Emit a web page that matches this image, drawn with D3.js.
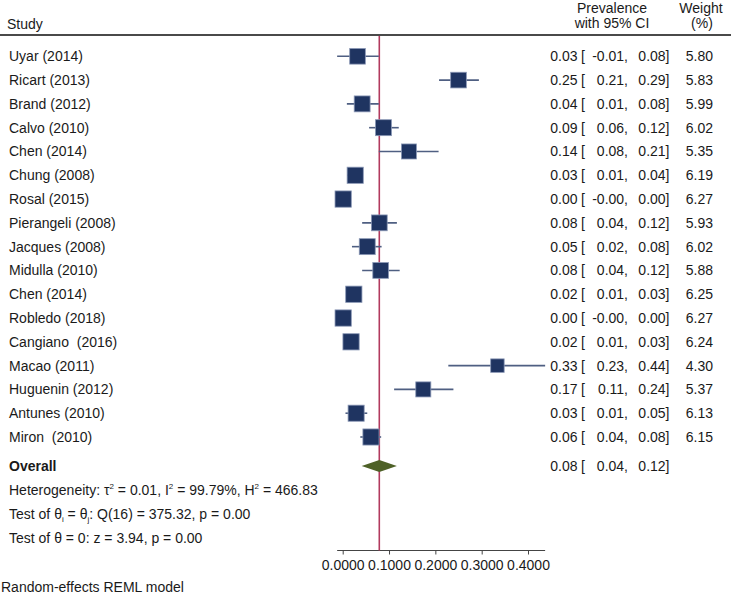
<!DOCTYPE html>
<html><head><meta charset="utf-8">
<script src="https://cdn.jsdelivr.net/npm/d3@7/dist/d3.min.js"></script>
<style>body{margin:0;background:#fff;} text{font-family:"Liberation Sans",Arial,sans-serif;}</style>
</head><body>
<script>
const studies = ["Uyar (2014)","Ricart (2013)","Brand (2012)","Calvo (2010)","Chen (2014)","Chung (2008)","Rosal (2015)","Pierangeli (2008)","Jacques (2008)","Midulla (2010)","Chen (2014)","Robledo (2018)","Cangiano  (2016)","Macao (2011)","Huguenin (2012)","Antunes (2010)","Miron  (2010)"];
const prevalence = [0.032,0.250,0.042,0.088,0.143,0.027,0.001,0.079,0.053,0.082,0.024,0.001,0.018,0.334,0.174,0.029,0.061];
const ciLow      = [-0.012,0.208,0.009,0.057,0.078,0.010,-0.001,0.042,0.020,0.042,0.014,-0.001,0.008,0.228,0.111,0.006,0.038];
const ciHigh     = [0.078,0.294,0.078,0.121,0.207,0.043,0.003,0.117,0.084,0.123,0.034,0.003,0.027,0.437,0.239,0.053,0.083];
const weights    = [5.80,5.83,5.99,6.02,5.35,6.19,6.27,5.93,6.02,5.88,6.25,6.27,6.24,4.30,5.37,6.13,6.15];
const overall = [0.079, 0.041, 0.117];
const tickValues = [0, 0.1, 0.2, 0.3, 0.4];

const W = 731, H = 594;
const svg = d3.select("body").append("svg").attr("width", W).attr("height", H);
const fs = 14;
const txt = "#1a1a1a";

const x = d3.scaleLinear().domain([0, 0.4]).range([342.7, 528]);
const y = d3.scaleLinear().domain([0, 16]).range([56.3, 437]);
const yOverall = 466;

const fmt = v => (v < 0 ? "-" : "") + Math.abs(v).toFixed(2);

// header
svg.append("text").attr("x", 7).attr("y", 24).attr("dy", "0.35em").attr("font-size", fs).attr("fill", txt).text("Study");
svg.append("text").attr("x", 612).attr("y", 8).attr("dy", "0.35em").attr("text-anchor", "middle").attr("font-size", fs).attr("fill", txt).text("Prevalence");
svg.append("text").attr("x", 612).attr("y", 23.5).attr("dy", "0.35em").attr("text-anchor", "middle").attr("font-size", fs).attr("fill", txt).text("with 95% CI");
svg.append("text").attr("x", 701).attr("y", 8).attr("dy", "0.35em").attr("text-anchor", "middle").attr("font-size", fs).attr("fill", txt).text("Weight");
svg.append("text").attr("x", 702).attr("y", 23.5).attr("dy", "0.35em").attr("text-anchor", "middle").attr("font-size", fs).attr("fill", txt).text("(%)");
svg.append("line").attr("x1", 0).attr("x2", W).attr("y1", 35).attr("y2", 35).attr("stroke", "#4a4a4a").attr("stroke-width", 1.8);

// axis
const axisY = 550.5;
const ext = [d3.min(ciLow), d3.max(ciHigh)];
svg.append("line").attr("x1", x(ext[0])).attr("x2", x(ext[1])).attr("y1", axisY).attr("y2", axisY).attr("stroke", "#444").attr("stroke-width", 1);
const ax = d3.axisBottom(x).tickValues(tickValues).tickFormat(d3.format(".4f")).tickSize(4).tickPadding(6);
const gAx = svg.append("g").attr("transform", `translate(0,${axisY})`).call(ax);
gAx.select(".domain").remove();
gAx.selectAll(".tick line").attr("stroke", "#444");
gAx.selectAll(".tick text").attr("font-size", fs).attr("fill", txt).attr("font-family", "Liberation Sans, Arial, sans-serif");

// reference line at overall
svg.append("line").attr("x1", x(overall[0])).attr("x2", x(overall[0])).attr("y1", 36).attr("y2", axisY)
  .attr("stroke", "#b23a5e").attr("stroke-width", 1.6);

// CI lines
svg.append("g").selectAll("line").data(studies).join("line")
  .attr("x1", (d,i) => x(ciLow[i])).attr("x2", (d,i) => x(ciHigh[i]))
  .attr("y1", (d,i) => y(i)).attr("y2", (d,i) => y(i))
  .attr("stroke", "#4f5f82").attr("stroke-width", 1.6);

// squares
const k = 6.5;
svg.append("g").selectAll("rect").data(studies).join("rect")
  .attr("x", (d,i) => x(prevalence[i]) - k*Math.sqrt(weights[i])/2)
  .attr("y", (d,i) => y(i) - k*Math.sqrt(weights[i])/2)
  .attr("width", (d,i) => k*Math.sqrt(weights[i]))
  .attr("height", (d,i) => k*Math.sqrt(weights[i]))
  .attr("fill", "#1f3461").attr("stroke", "#8b98b6").attr("stroke-width", 0.8);

// overall diamond
const dh = 6;
svg.append("path")
  .attr("d", `M${x(overall[1])},${yOverall} L${x(overall[0])},${yOverall-dh} L${x(overall[2])},${yOverall} L${x(overall[0])},${yOverall+dh} Z`)
  .attr("fill", "#4e6127");

// study labels
svg.append("g").selectAll("text").data(studies).join("text")
  .attr("x", 9).attr("y", (d,i) => y(i)).attr("dy", "0.35em").attr("font-size", fs).attr("fill", txt)
  .attr("xml:space", "preserve").style("white-space", "pre").text(d => d);

// numeric columns
const cols = svg.append("g").attr("font-size", fs).attr("fill", txt);
studies.forEach((s, i) => {
  const yy = y(i);
  cols.append("text").attr("x", 577.5).attr("y", yy).attr("dy", "0.35em").attr("text-anchor", "end").text(fmt(prevalence[i]));
  cols.append("text").attr("x", 581).attr("y", yy).attr("dy", "0.35em").text("[");
  cols.append("text").attr("x", 628).attr("y", yy).attr("dy", "0.35em").attr("text-anchor", "end").text(fmt(ciLow[i]) + ",");
  cols.append("text").attr("x", 669.5).attr("y", yy).attr("dy", "0.35em").attr("text-anchor", "end").text(fmt(ciHigh[i]) + "]");
  cols.append("text").attr("x", 713).attr("y", yy).attr("dy", "0.35em").attr("text-anchor", "end").text(weights[i].toFixed(2));
});
cols.append("text").attr("x", 577.5).attr("y", yOverall).attr("dy", "0.35em").attr("text-anchor", "end").text(fmt(overall[0]));
cols.append("text").attr("x", 581).attr("y", yOverall).attr("dy", "0.35em").text("[");
cols.append("text").attr("x", 628).attr("y", yOverall).attr("dy", "0.35em").attr("text-anchor", "end").text(fmt(overall[1]) + ",");
cols.append("text").attr("x", 669.5).attr("y", yOverall).attr("dy", "0.35em").attr("text-anchor", "end").text(fmt(overall[2]) + "]");

// overall + stats
svg.append("text").attr("x", 9).attr("y", yOverall).attr("dy", "0.35em").attr("font-size", fs).attr("font-weight", "bold").attr("fill", txt).text("Overall");

const t1 = svg.append("text").attr("x", 9).attr("y", 490).attr("dy", "0.35em").attr("font-size", fs).attr("fill", txt);
t1.append("tspan").text("Heterogeneity: τ");
t1.append("tspan").attr("font-size", 8).attr("dy", -6).text("2");
t1.append("tspan").attr("dy", 6).text(" = 0.01, I");
t1.append("tspan").attr("font-size", 8).attr("dy", -6).text("2");
t1.append("tspan").attr("dy", 6).text(" = 99.79%, H");
t1.append("tspan").attr("font-size", 8).attr("dy", -6).text("2");
t1.append("tspan").attr("dy", 6).text(" = 466.83");

const t2 = svg.append("text").attr("x", 9).attr("y", 514).attr("dy", "0.35em").attr("font-size", fs).attr("fill", txt);
t2.append("tspan").text("Test of θ");
t2.append("tspan").attr("font-size", 8).attr("dy", 3).text("i");
t2.append("tspan").attr("dy", -3).text(" = θ");
t2.append("tspan").attr("font-size", 8).attr("dy", 3).text("j");
t2.append("tspan").attr("dy", -3).text(": Q(16) = 375.32, p = 0.00");

svg.append("text").attr("x", 9).attr("y", 538).attr("dy", "0.35em").attr("font-size", fs).attr("fill", txt).text("Test of θ = 0: z = 3.94, p = 0.00");

svg.append("text").attr("x", 1).attr("y", 587).attr("dy", "0.35em").attr("font-size", fs).attr("fill", txt).text("Random-effects REML model");
</script>
</body></html>
